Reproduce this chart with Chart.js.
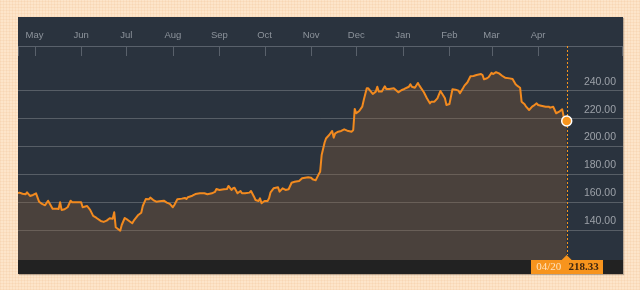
<!DOCTYPE html>
<html>
<head>
<meta charset="utf-8">
<script src="https://cdn.jsdelivr.net/npm/chart.js@4.4.1/dist/chart.umd.min.js"></script>
<style>
  html, body {
    margin: 0;
    padding: 0;
    width: 640px;
    height: 290px;
    overflow: hidden;
    background-color: #fde5ca;
    background-image:
      repeating-linear-gradient(0deg, rgba(235,180,130,0.16) 0px, rgba(235,180,130,0.16) 1px, transparent 1px, transparent 3px),
      repeating-linear-gradient(90deg, rgba(235,180,130,0.16) 0px, rgba(235,180,130,0.16) 1px, transparent 1px, transparent 3px);
  }
  #panel {
    position: absolute;
    left: 18px;
    top: 17px;
    width: 605px;
    height: 257px;
    background: #2a333e;
    box-shadow: 1px 1px 1px rgba(0,0,0,0.25);
  }
</style>
</head>
<body>
<div id="panel"><canvas id="price_chart" width="605" height="257"></canvas></div>
<script>
// Daily closes (one year, 04/20 to 04/20)
const dates = [
  '2016-04-20','2016-04-21','2016-04-23','2016-04-25','2016-04-26','2016-04-28','2016-04-30',
  '2016-05-02','2016-05-04','2016-05-06','2016-05-08','2016-05-10','2016-05-12','2016-05-13',
  '2016-05-16','2016-05-17','2016-05-18','2016-05-19','2016-05-21','2016-05-23','2016-05-25',
  '2016-05-26','2016-05-29','2016-06-01','2016-06-02','2016-06-05','2016-06-07','2016-06-09',
  '2016-06-11','2016-06-14','2016-06-16','2016-06-18','2016-06-20','2016-06-22','2016-06-23',
  '2016-06-24','2016-06-27','2016-06-28','2016-06-30','2016-07-02','2016-07-05','2016-07-06',
  '2016-07-09','2016-07-11','2016-07-12','2016-07-14','2016-07-16','2016-07-17','2016-07-19',
  '2016-07-21','2016-07-23','2016-07-26','2016-07-28','2016-07-30','2016-08-01','2016-08-02',
  '2016-08-04','2016-08-07','2016-08-09','2016-08-10','2016-08-11','2016-08-14','2016-08-16',
  '2016-08-19','2016-08-22','2016-08-24','2016-08-27','2016-08-29','2016-08-30','2016-09-01',
  '2016-09-04','2016-09-06','2016-09-07','2016-09-09','2016-09-10','2016-09-11','2016-09-13',
  '2016-09-15','2016-09-16','2016-09-18','2016-09-21','2016-09-22','2016-09-24','2016-09-25',
  '2016-09-27','2016-09-28','2016-09-29','2016-10-01','2016-10-03','2016-10-04','2016-10-05',
  '2016-10-07','2016-10-10','2016-10-11','2016-10-13','2016-10-15','2016-10-17','2016-10-19',
  '2016-10-21','2016-10-24','2016-10-26','2016-10-28','2016-10-30','2016-11-01','2016-11-02',
  '2016-11-04','2016-11-06','2016-11-07','2016-11-08','2016-11-10','2016-11-11','2016-11-13',
  '2016-11-15','2016-11-16','2016-11-17','2016-11-19','2016-11-21','2016-11-23','2016-11-25',
  '2016-11-28','2016-11-29','2016-11-30','2016-12-01','2016-12-03','2016-12-05','2016-12-06',
  '2016-12-08','2016-12-09','2016-12-12','2016-12-14','2016-12-15','2016-12-16','2016-12-18',
  '2016-12-20','2016-12-21','2016-12-23','2016-12-26','2016-12-29','2016-12-31','2017-01-02',
  '2017-01-05','2017-01-06','2017-01-07','2017-01-09','2017-01-11','2017-01-12','2017-01-15',
  '2017-01-17','2017-01-19','2017-01-20','2017-01-22','2017-01-24','2017-01-26','2017-01-28',
  '2017-01-29','2017-01-30','2017-02-01','2017-02-03','2017-02-05','2017-02-07','2017-02-08',
  '2017-02-10','2017-02-11','2017-02-13','2017-02-15','2017-02-17','2017-02-19','2017-02-22',
  '2017-02-23','2017-02-24','2017-02-26','2017-02-27','2017-03-01','2017-03-02','2017-03-04',
  '2017-03-06','2017-03-08','2017-03-10','2017-03-13','2017-03-15','2017-03-17','2017-03-18',
  '2017-03-20','2017-03-21','2017-03-23','2017-03-24','2017-03-26','2017-03-28','2017-03-29',
  '2017-03-31','2017-04-01','2017-04-03','2017-04-06','2017-04-08','2017-04-09','2017-04-11',
  '2017-04-12','2017-04-13','2017-04-15','2017-04-17','2017-04-18','2017-04-20'];

const prices = [
  166.6,167.0,166.2,165.8,167.2,164.6,165.3,
  166.5,160.5,158.9,157.9,161.2,157.4,155.5,
  155.5,155.3,160.1,154.6,155.1,156.5,161.2,
  160.1,160.1,160.1,156.5,157.4,154.6,150.3,
  149.0,146.7,146.0,146.9,148.6,148.3,152.9,
  142.2,139.7,143.8,148.8,147.4,145.0,146.9,
  151.0,152.6,157.4,162.4,162.2,163.4,161.7,
  160.5,160.8,161.2,159.8,158.9,156.5,158.1,
  162.2,162.7,163.2,162.4,163.7,164.8,166.0,
  166.5,166.5,165.8,166.5,167.5,169.6,168.9,
  169.4,169.6,171.8,168.9,170.1,170.5,166.5,
  168.2,166.5,166.5,167.0,168.2,164.1,161.7,
  161.0,162.9,159.4,161.0,161.0,162.9,167.2,
  170.1,170.8,167.7,170.1,168.9,169.4,174.1,
  174.8,175.3,177.3,177.7,178.0,177.7,176.6,
  175.8,180.1,182.0,194.0,203.1,206.0,208.3,
  211.2,206.4,209.5,210.7,211.2,212.4,211.4,
  210.7,211.9,227.0,223.9,225.5,228.6,233.4,
  241.8,241.8,237.7,239.4,242.9,239.4,239.4,
  243.2,241.3,241.3,241.8,238.9,240.4,241.3,
  242.9,244.7,242.9,242.2,245.6,243.7,238.9,
  234.6,231.0,232.2,232.2,234.6,239.9,236.5,
  234.6,229.8,230.5,241.1,240.8,240.1,238.2,
  241.8,243.7,246.1,250.4,250.6,251.3,252.0,
  251.3,248.2,249.0,249.7,252.8,252.0,253.3,
  252.5,250.8,249.4,248.9,248.5,244.7,243.7,
  242.2,232.2,230.3,228.6,226.2,228.6,229.3,
  231.0,229.8,229.3,228.6,228.6,227.9,228.6,
  226.2,223.9,225.0,226.7,221.4,218.33];

const month_starts = ['2016-05-01','2016-06-01','2016-07-01','2016-08-01','2016-09-01','2016-10-01',
  '2016-11-01','2016-12-01','2017-01-01','2017-02-01','2017-03-01','2017-04-01'];
const month_labels = ['May','Jun','Jul','Aug','Sep','Oct','Nov','Dec','Jan','Feb','Mar','Apr'];
const price_ticks = [140, 160, 180, 200, 220, 240];

const line_color = '#f28a1f';
const badge_color = '#f7941d';

// days since the first date, so a linear scale can stand in for a time axis
function dayNumber(s) {
  var p = s.split('-');
  var q = dates[0].split('-');
  return (Date.UTC(+p[0], p[1] - 1, +p[2]) - Date.UTC(+q[0], q[1] - 1, +q[2])) / 86400000;
}

var points = dates.map(function (d, i) { return {x: dayNumber(d), y: prices[i]}; });
var last_index = points.length - 1;

// keep Chart.js from reserving room for labels that sit inside the panel
function noPadding(scale) {
  scale.paddingLeft = 0;
  scale.paddingRight = 0;
  scale.paddingTop = 0;
  scale.paddingBottom = 0;
}

var panel_plugin = {
  id: 'panel',
  beforeDraw: function (chart) {
    var ctx = chart.ctx, area = chart.chartArea;
    ctx.save();
    ctx.fillStyle = '#222222';
    ctx.fillRect(0, area.bottom, chart.width, chart.height - area.bottom);
    ctx.restore();
  },
  beforeDatasetsDraw: function (chart) {
    // dotted marker at the latest close
    var ctx = chart.ctx, area = chart.chartArea;
    var x = Math.round(chart.scales.x.getPixelForValue(points[last_index].x)) + 0.5;
    ctx.save();
    ctx.strokeStyle = badge_color;
    ctx.lineWidth = 1;
    ctx.setLineDash([2, 2]);
    ctx.beginPath();
    ctx.moveTo(x, area.top);
    ctx.lineTo(x, area.bottom - 5);
    ctx.stroke();
    ctx.restore();
  },
  afterDraw: function (chart) {
    var ctx = chart.ctx, area = chart.chartArea, xs = chart.scales.x;
    ctx.save();
    // short month ticks hanging below the date band
    ctx.strokeStyle = '#59616b';
    ctx.lineWidth = 1;
    ctx.beginPath();
    var marks = xs.ticks.map(function (t) { return xs.getPixelForValue(t.value); });
    marks.push(area.left, area.right - 1);
    marks.forEach(function (px) {
      px = Math.round(px) + 0.5;
      ctx.moveTo(px, area.top);
      ctx.lineTo(px, area.top + 10);
    });
    ctx.stroke();

    // date / price badge
    var x = xs.getPixelForValue(points[last_index].x);
    var top = area.bottom;
    var h = chart.height - area.bottom;
    ctx.fillStyle = badge_color;
    ctx.fillRect(Math.round(x - 36), top, 72, h);
    ctx.beginPath();
    ctx.moveTo(x - 5, top);
    ctx.lineTo(x, top - 5);
    ctx.lineTo(x + 5, top);
    ctx.closePath();
    ctx.fill();

    var p = dates[last_index].split('-');
    ctx.textAlign = 'center';
    ctx.textBaseline = 'middle';
    ctx.font = '11px "Liberation Serif", "DejaVu Serif", serif';
    ctx.fillStyle = '#fde2bd';
    ctx.fillText(p[1] + '/' + p[2], x - 18, top + h / 2 + 0.5);
    ctx.font = 'bold 11px "Liberation Serif", "DejaVu Serif", serif';
    ctx.fillStyle = '#3c2410';
    ctx.fillText(prices[last_index].toFixed(2), x + 17, top + h / 2 + 0.5);
    ctx.restore();
  }
};

new Chart(document.getElementById('price_chart'), {
  type: 'line',
  data: {
    datasets: [{
      data: points,
      borderColor: line_color,
      borderWidth: 2,
      borderJoinStyle: 'round',
      fill: 'start',
      backgroundColor: 'rgba(149,101,55,0.30)',
      tension: 0,
      pointRadius: function (c) { return c.dataIndex === last_index ? 5 : 0; },
      pointBackgroundColor: badge_color,
      pointBorderColor: '#ffffff',
      pointBorderWidth: 1.5
    }]
  },
  options: {
    responsive: false,
    animation: false,
    devicePixelRatio: 1,
    events: [],
    layout: {autoPadding: false, padding: {top: 13, bottom: 14, left: 0, right: 0}},
    plugins: {
      legend: {display: false},
      tooltip: {enabled: false}
    },
    scales: {
      x: {
        type: 'linear',
        position: 'top',
        min: 0,
        max: 402.45,
        afterBuildTicks: function (scale) {
          scale.ticks = month_starts.map(function (d) { return {value: dayNumber(d)}; });
        },
        afterFit: function (scale) {
          scale.height = 16;
          noPadding(scale);
        },
        ticks: {
          autoSkip: false,
          maxRotation: 0,
          padding: 4.5,
          color: '#8d949c',
          font: {family: '"Liberation Sans", Arial, sans-serif', size: 9.5},
          callback: function (value, index) { return month_labels[index]; }
        },
        grid: {display: true, drawOnChartArea: false, drawTicks: false},
        border: {display: true, color: '#59616b', width: 1}
      },
      y: {
        type: 'linear',
        position: 'right',
        min: 118.7,
        max: 272.1,
        afterBuildTicks: function (scale) {
          scale.ticks = price_ticks.map(function (v) { return {value: v}; });
        },
        afterFit: function (scale) {
          scale.width = 0;
          noPadding(scale);
        },
        ticks: {
          mirror: true,
          padding: -7,
          labelOffset: -9,
          color: '#9ca1a8',
          font: {family: '"Liberation Sans", Arial, sans-serif', size: 10.5},
          callback: function (value) { return Number(value).toFixed(2); }
        },
        grid: {color: 'rgba(255,255,255,0.21)', lineWidth: 1, drawTicks: false},
        border: {display: false}
      }
    }
  },
  plugins: [panel_plugin]
});
</script>
</body>
</html>
